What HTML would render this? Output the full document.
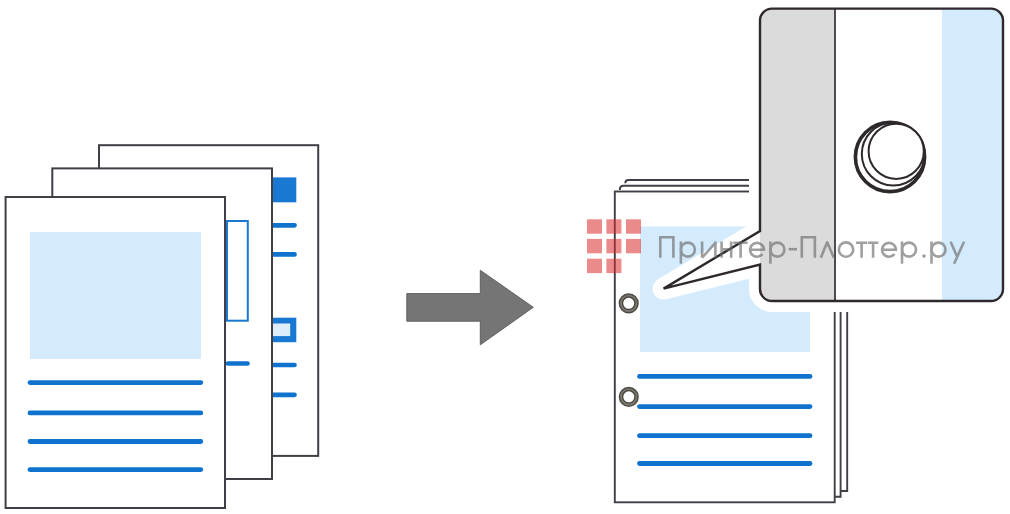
<!DOCTYPE html>
<html>
<head>
<meta charset="utf-8">
<style>
html,body{margin:0;padding:0;background:#ffffff;}
body{width:1010px;height:514px;overflow:hidden;position:relative;}
svg{position:absolute;left:0;top:0;display:block;}
</style>
</head>
<body>
<svg width="1010" height="514" viewBox="0 0 1010 514">
  <!-- LEFT STACK -->
  <!-- back page -->
  <rect x="99" y="145.2" width="219.2" height="310.7" fill="#fff" stroke="#423e47" stroke-width="2"/>
  <rect x="272" y="177.4" width="24.3" height="24.9" fill="#1878d2"/>
  <line x1="273" y1="225.3" x2="294.5" y2="225.3" stroke="#0f73ce" stroke-width="4.7" stroke-linecap="round"/>
  <line x1="273" y1="254.4" x2="294.5" y2="254.4" stroke="#0f73ce" stroke-width="4.7" stroke-linecap="round"/>
  <rect x="272" y="317.7" width="24.3" height="24.5" fill="#1878d2"/>
  <rect x="273" y="323.5" width="17.2" height="12.6" fill="#ddeefa"/>
  <line x1="273" y1="365" x2="294.5" y2="365" stroke="#0f73ce" stroke-width="4.7" stroke-linecap="round"/>
  <line x1="273" y1="394.8" x2="294.5" y2="394.8" stroke="#0f73ce" stroke-width="4.7" stroke-linecap="round"/>
  <!-- middle page -->
  <rect x="52.3" y="168.4" width="219.7" height="310.6" fill="#fff" stroke="#423e47" stroke-width="2"/>
  <rect x="227" y="221" width="20.8" height="99.7" fill="none" stroke="#1878d2" stroke-width="2"/>
  <line x1="228" y1="363.5" x2="247.5" y2="363.5" stroke="#0f73ce" stroke-width="4.7" stroke-linecap="round"/>
  <!-- front page -->
  <rect x="5.6" y="197" width="219.4" height="311" fill="#fff" stroke="#423e47" stroke-width="2"/>
  <rect x="30" y="232" width="171" height="127" fill="#d3ebfc"/>
  <line x1="30" y1="382.6" x2="200.8" y2="382.6" stroke="#0f73ce" stroke-width="4.8" stroke-linecap="round"/>
  <line x1="30" y1="412.9" x2="200.8" y2="412.9" stroke="#0f73ce" stroke-width="4.8" stroke-linecap="round"/>
  <line x1="30" y1="441.5" x2="200.8" y2="441.5" stroke="#0f73ce" stroke-width="4.8" stroke-linecap="round"/>
  <line x1="30" y1="469.6" x2="200.8" y2="469.6" stroke="#0f73ce" stroke-width="4.8" stroke-linecap="round"/>

  <!-- ARROW -->
  <polygon points="406.8,293.6 480.3,293.6 480.3,270.3 533.3,307.3 480.3,344.8 480.3,321.2 406.8,321.2" fill="#757575" stroke="#616161" stroke-width="1" stroke-linejoin="miter"/>

  <!-- RIGHT STACK -->
  <rect x="625.5" y="180" width="221.7" height="311" fill="#fff"/><path d="M625.3,183.2 Q625.3,180 628.5,180 H847.2 V491 H836" fill="none" stroke="#423e47" stroke-width="1.9"/>
  <rect x="620" y="185.8" width="220.6" height="311" fill="#fff"/><path d="M619.8,189.9 Q619.8,185.8 623.5,185.8 H840.6 V496.8 H832" fill="none" stroke="#423e47" stroke-width="1.9"/>
  <rect x="614.8" y="191.5" width="219.9" height="310.8" fill="#fff" stroke="#423e47" stroke-width="1.9"/>
  <rect x="640" y="226.4" width="170" height="125.6" fill="#d3ebfc"/>
  <circle cx="628.7" cy="303.3" r="7.8" fill="#fff" stroke="#4f4b45" stroke-width="4.6"/><circle cx="628.7" cy="303.3" r="7.8" fill="none" stroke="#7d7a72" stroke-width="1.6"/>
  <circle cx="628.8" cy="396.8" r="7.8" fill="#fff" stroke="#4f4b45" stroke-width="4.6"/><circle cx="628.8" cy="396.8" r="7.8" fill="none" stroke="#7d7a72" stroke-width="1.6"/>
  <line x1="639.5" y1="376.4" x2="810" y2="376.4" stroke="#0f73ce" stroke-width="4.8" stroke-linecap="round"/>
  <line x1="639.5" y1="406.6" x2="810" y2="406.6" stroke="#0f73ce" stroke-width="4.8" stroke-linecap="round"/>
  <line x1="639.5" y1="435.7" x2="810" y2="435.7" stroke="#0f73ce" stroke-width="4.8" stroke-linecap="round"/>
  <line x1="639.5" y1="463.5" x2="810" y2="463.5" stroke="#0f73ce" stroke-width="4.8" stroke-linecap="round"/>

  <!-- CALLOUT -->
  <defs>
    <clipPath id="cbox"><rect x="760" y="8.6" width="243" height="292.4" rx="12"/></clipPath>
  </defs>
  <path d="M772,8.6 H991 A12,12 0 0 1 1003,20.6 V289 A12,12 0 0 1 991,301 H772 A12,12 0 0 1 760,289 V264.6 L663.6,288.6 L760,231 V20.6 A12,12 0 0 1 772,8.6 Z" fill="#fff" stroke="#fff" stroke-width="22" stroke-linejoin="round"/>
  <g clip-path="url(#cbox)">
    <rect x="760" y="8.6" width="243" height="292.4" fill="#fff"/>
    <rect x="760" y="8.6" width="75" height="292.4" fill="#dbdbdb"/>
    <rect x="942" y="8.6" width="61" height="292.4" fill="#d3ebfc"/>
  </g>
  <line x1="835" y1="8.6" x2="835" y2="301" stroke="#4d4a52" stroke-width="2"/>
  <path d="M772,8.6 H991 A12,12 0 0 1 1003,20.6 V289 A12,12 0 0 1 991,301 H772 A12,12 0 0 1 760,289 V264.6 L663.6,288.6 L760,231 V20.6 A12,12 0 0 1 772,8.6 Z" fill="none" stroke="#2e282c" stroke-width="2.4" stroke-linejoin="miter"/>
  <!-- hole -->
  <circle cx="890" cy="157" r="34.6" fill="#fff" stroke="#2e282c" stroke-width="3.6"/>
  <circle cx="893.3" cy="154" r="31.5" fill="none" stroke="#2e282c" stroke-width="2"/>
  <circle cx="896.2" cy="151.3" r="27.6" fill="#fff" stroke="#2e282c" stroke-width="2"/>

  <!-- WATERMARK -->
  <g fill="#d92a2a" fill-opacity="0.55">
    <rect x="587" y="219.3" width="15" height="14.4"/>
    <rect x="606.4" y="219.3" width="15" height="14.4"/>
    <rect x="626" y="219.3" width="15" height="14.4"/>
    <rect x="587" y="238.9" width="15" height="14.4"/>
    <rect x="606.4" y="238.9" width="15" height="14.4"/>
    <rect x="626" y="238.9" width="15" height="14.4"/>
    <rect x="587" y="258.7" width="15" height="14.4"/>
    <rect x="606.4" y="258.7" width="15" height="14.4"/>
  </g>
  <g opacity="0.66" fill="none" stroke="#6e6e6e" stroke-width="2.6" stroke-linecap="butt" stroke-linejoin="miter">
    <path d="M660.3,257.7 V237.3 H673.4 V257.7"/>
    <path d="M680.9,241.45000000000002 V263.7"/>
    <circle cx="687.9" cy="249.6" r="7.0"/>
    <path d="M702.1,241.45000000000002 V257.7 M702.1,257.7 L715.4,242.8 M715.4,241.45000000000002 V257.7"/>
    <path d="M721.6,241.45000000000002 V257.7 M731.2,241.45000000000002 V257.7 M721.6,249.4 H731.2"/>
    <path d="M733.2,242.8 H747.6 M740.6,242.8 V257.7"/>
    <path d="M750.10,249.80 H763.90 A6.9,6.9 0 1 0 762.44,254.05"/>
    <path d="M770.4,241.45000000000002 V263.7"/>
    <circle cx="777.4" cy="249.6" r="7.0"/>
    <path d="M788.7,249.2 H797"/>
    <path d="M801.8,257.7 V237.3 H814.9 V257.7"/>
    <path d="M820.8,257.7 L827.2,242.3 L833.8,257.7" stroke-linejoin="round"/>
    <circle cx="846.0" cy="249.6" r="7.2"/>
    <path d="M856.1,242.8 H867.3 M861.6,242.8 V257.7"/>
    <path d="M868.0,242.8 H878.4 M873.1,242.8 V257.7"/>
    <path d="M882.10,249.80 H895.90 A6.9,6.9 0 1 0 894.44,254.05"/>
    <path d="M902,241.45000000000002 V263.7"/>
    <circle cx="909.0" cy="249.6" r="7.0"/>
    <circle cx="924" cy="256.1" r="1.8" fill="#6e6e6e" stroke="none"/>
    <path d="M931.5,241.45000000000002 V263.7"/>
    <circle cx="938.5" cy="249.6" r="7.0"/>
    <path d="M950.6,241.8 L957.3,257 M964,241.8 L954.1,263.7"/>
  </g>
</svg>
</body>
</html>
